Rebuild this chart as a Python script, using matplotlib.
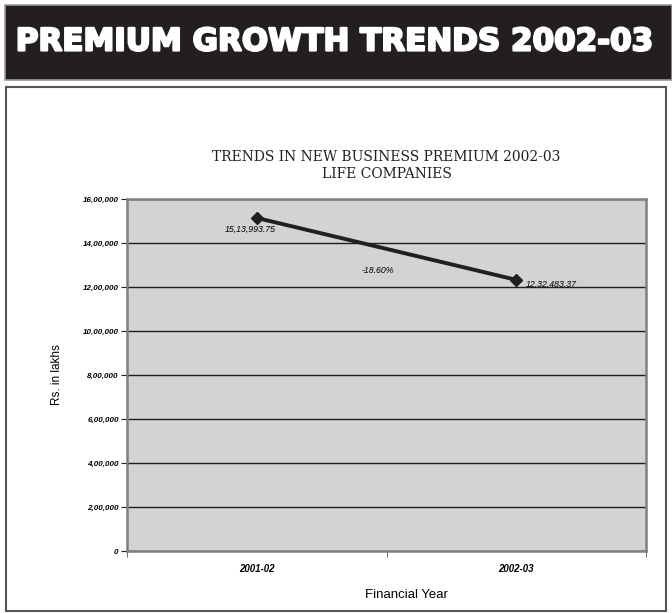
import matplotlib.pyplot as plt
import matplotlib.patheffects as pe
from matplotlib.patches import Rectangle
from matplotlib.ticker import FixedLocator

years = ['2001-02', '2002-03']
premium = [1513993.75, 1232483.37]
point_labels = ['15,13,993.75', '12,32,483.37']
growth_label = '-18.60%'
y_ticks = [0, 200000, 400000, 600000, 800000, 1000000, 1200000, 1400000, 1600000]
y_tick_labels = ['0', '2,00,000', '4,00,000', '6,00,000', '8,00,000',
                 '10,00,000', '12,00,000', '14,00,000', '16,00,000']

SANS = 'Liberation Sans'
W, H = 672, 613
fig = plt.figure(figsize=(W / 100, H / 100), dpi=100)
fig.patch.set_facecolor('white')

# black heading band
fig.patches.append(Rectangle((5 / W, 1 - 80 / H), 667 / W, 75 / H,
                             transform=fig.transFigure, facecolor='#231f20',
                             edgecolor='#9a9a9a', linewidth=1.2))
fig.text(335 / W, 1 - 42 / H, 'PREMIUM GROWTH TRENDS 2002-03', color='white',
         fontsize=22.3, fontweight='bold', family='DejaVu Sans', ha='center',
         va='center',
         path_effects=[pe.withStroke(linewidth=1.6, foreground='white')])

# frame around the chart
fig.patches.append(Rectangle((6 / W, 2 / H), 660 / W, (611 - 87) / H,
                             transform=fig.transFigure, facecolor='none',
                             edgecolor='#555555', linewidth=1.5))

ax = fig.add_axes([127 / W, 1 - 551 / H, (646 - 127) / W, (551 - 199) / H])
ax.set_facecolor('#d2d3d5')

x = list(range(len(years)))
ax.plot(x, premium, color='#231f20', linewidth=2.8, marker='D', markersize=6,
        zorder=3)

ax.set_xlim(-0.5, 1.5)
ax.set_ylim(0, 1600000)
ax.set_yticks(y_ticks)
ax.set_yticklabels(y_tick_labels, fontsize=5.8, fontstyle='italic',
                   fontweight='bold', family=SANS)
ax.yaxis.grid(True, color='#231f20', linewidth=1.0)
ax.set_axisbelow(True)

ax.set_xticks(x)
ax.set_xticklabels(years, fontsize=7, fontstyle='italic', fontweight='bold',
                   family=SANS)
ax.tick_params(axis='x', length=0, pad=9)
ax.xaxis.set_minor_locator(FixedLocator([-0.5, 0.5, 1.5]))
ax.tick_params(axis='x', which='minor', length=4, color='#555555', direction='out')
ax.tick_params(axis='y', length=4, color='#231f20', pad=2)

for side in ['left', 'right', 'top', 'bottom']:
    ax.spines[side].set_color('#808080')
    ax.spines[side].set_linewidth(1.8)

ax.annotate(point_labels[0], (x[0], premium[0]), xytext=(-23, -8.5),
            textcoords='offset points', fontsize=6.3, fontstyle='italic',
            family=SANS, va='center', ha='left')
ax.annotate(point_labels[1], (x[1], premium[1]), xytext=(7, -3),
            textcoords='offset points', fontsize=6.3, fontstyle='italic',
            family=SANS, va='center', ha='left')
ax.text(0.465, (premium[0] + premium[1]) / 2 - 100000, growth_label,
        fontsize=6.3, fontstyle='italic', family=SANS, ha='center', va='center')

ax.set_title('TRENDS IN NEW BUSINESS PREMIUM 2002-03\nLIFE COMPANIES',
             family='DejaVu Serif', fontsize=10, linespacing=1.3, pad=15,
             color='#231f20')
ax.set_ylabel('Rs. in lakhs', fontsize=8.5, family=SANS, labelpad=14)
ax.set_xlabel('Financial Year', fontsize=9.5, family=SANS, labelpad=8)
ax.xaxis.set_label_coords((406 - 127) / (646 - 127), -0.108)

fig.savefig('out.png', dpi=100)
